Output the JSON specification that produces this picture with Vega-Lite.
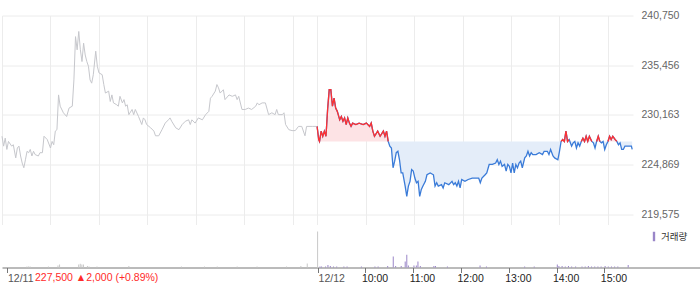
{
  "$schema": "https://vega.github.io/schema/vega-lite/v6.json",
  "background": "white",
  "padding": {"left": 0, "top": 10.5, "right": 0, "bottom": 0},
  "spacing": 0,
  "config": {
    "view": {"stroke": null},
    "font": "Liberation Sans",
    "axis": {"labelFont": "Liberation Sans"}
  },
  "datasets": {
    "d11": [
      {"t":0,"p":227900},{"t":2,"p":226850},{"t":4,"p":227700},{"t":6,"p":226500},{"t":8,"p":227350},{"t":12,"p":226850},{"t":14,"p":227000},{"t":17,"p":225600},{"t":19,"p":226650},{"t":21,"p":226850},{"t":23,"p":225800},{"t":25,"p":225050},{"t":27,"p":224550},{"t":29,"p":225400},{"t":31,"p":226300},{"t":33,"p":226150},{"t":35,"p":226500},{"t":37,"p":225800},{"t":39,"p":226300},{"t":41,"p":225950},{"t":45,"p":225800},{"t":47,"p":226150},{"t":50,"p":226150},{"t":52,"p":227900},{"t":56,"p":227550},{"t":60,"p":226650},{"t":62,"p":227350},{"t":64,"p":227000},{"t":66,"p":228450},{"t":68,"p":228600},{"t":70,"p":232300},{"t":72,"p":231100},{"t":76,"p":230400},{"t":80,"p":230000},{"t":83,"p":230900},{"t":87,"p":231100},{"t":89,"p":233900},{"t":91,"p":238500},{"t":93,"p":237100},{"t":95,"p":239050},{"t":97,"p":237100},{"t":99,"p":235850},{"t":101,"p":237800},{"t":103,"p":236550},{"t":105,"p":235850},{"t":107,"p":235350},{"t":109,"p":233900},{"t":111,"p":233550},{"t":113,"p":234450},{"t":116,"p":236950},{"t":118,"p":235350},{"t":120,"p":234650},{"t":124,"p":234450},{"t":126,"p":233400},{"t":128,"p":232500},{"t":132,"p":232700},{"t":134,"p":231600},{"t":136,"p":232300},{"t":138,"p":231450},{"t":142,"p":231250},{"t":144,"p":231100},{"t":146,"p":232150},{"t":149,"p":231450},{"t":151,"p":231800},{"t":153,"p":231100},{"t":155,"p":231250},{"t":157,"p":230200},{"t":161,"p":230750},{"t":163,"p":230200},{"t":165,"p":230750},{"t":169,"p":230000},{"t":173,"p":229150},{"t":175,"p":229850},{"t":177,"p":229650},{"t":179,"p":229150},{"t":184,"p":228800},{"t":188,"p":228450},{"t":190,"p":227950},{"t":194,"p":227950},{"t":198,"p":228600},{"t":202,"p":229300},{"t":206,"p":229650},{"t":208,"p":229850},{"t":210,"p":229500},{"t":215,"p":228800},{"t":219,"p":228600},{"t":223,"p":229150},{"t":227,"p":229500},{"t":231,"p":229650},{"t":233,"p":229150},{"t":235,"p":229650},{"t":239,"p":229300},{"t":243,"p":229850},{"t":248,"p":229650},{"t":252,"p":230200},{"t":256,"p":230550},{"t":258,"p":231950},{"t":260,"p":232150},{"t":264,"p":232700},{"t":266,"p":233400},{"t":268,"p":233050},{"t":270,"p":232500},{"t":274,"p":232850},{"t":276,"p":231800},{"t":281,"p":232300},{"t":285,"p":232150},{"t":289,"p":232300},{"t":291,"p":231800},{"t":293,"p":232150},{"t":297,"p":230750},{"t":301,"p":230750},{"t":305,"p":230900},{"t":309,"p":230750},{"t":314,"p":231100},{"t":316,"p":231450},{"t":318,"p":231250},{"t":322,"p":231450},{"t":326,"p":231450},{"t":330,"p":230200},{"t":334,"p":230400},{"t":338,"p":230200},{"t":340,"p":230750},{"t":342,"p":230200},{"t":347,"p":230200},{"t":349,"p":230400},{"t":351,"p":229150},{"t":355,"p":228600},{"t":359,"p":228500},{"t":363,"p":228500},{"t":367,"p":228950},{"t":371,"p":228950},{"t":375,"p":227950},{"t":377,"p":228950},{"t":384,"p":228950},{"t":389,"p":228950}
    ],
    "d12": [
      {"t":390,"p":228950},{"t":392,"p":227550},{"t":393,"p":227350},{"t":395,"p":228450},{"t":397,"p":227900},{"t":399,"p":228450},{"t":401,"p":227900},{"t":403,"p":230750},{"t":405,"p":232850},{"t":407,"p":232850},{"t":409,"p":231100},{"t":411,"p":231950},{"t":413,"p":230900},{"t":415,"p":230550},{"t":418,"p":229650},{"t":420,"p":230000},{"t":422,"p":229500},{"t":424,"p":229850},{"t":426,"p":229150},{"t":428,"p":229850},{"t":430,"p":229300},{"t":432,"p":228950},{"t":434,"p":229300},{"t":438,"p":229150},{"t":442,"p":229300},{"t":447,"p":229150},{"t":451,"p":229300},{"t":455,"p":228950},{"t":457,"p":229300},{"t":459,"p":228450},{"t":461,"p":227900},{"t":465,"p":228450},{"t":468,"p":227900},{"t":472,"p":228450},{"t":474,"p":227900},{"t":476,"p":228450},{"t":478,"p":227350},{"t":480,"p":226850},{"t":482,"p":226650},{"t":484,"p":224550},{"t":486,"p":225250},{"t":488,"p":226150},{"t":490,"p":226300},{"t":492,"p":225400},{"t":494,"p":224000},{"t":496,"p":224000},{"t":499,"p":222600},{"t":501,"p":221500},{"t":503,"p":222600},{"t":505,"p":223100},{"t":507,"p":224350},{"t":509,"p":224200},{"t":511,"p":223450},{"t":513,"p":222950},{"t":515,"p":223100},{"t":517,"p":221500},{"t":519,"p":222250},{"t":521,"p":222600},{"t":524,"p":223100},{"t":526,"p":223800},{"t":530,"p":224000},{"t":534,"p":223800},{"t":536,"p":222600},{"t":538,"p":222950},{"t":540,"p":222600},{"t":544,"p":222750},{"t":546,"p":222400},{"t":548,"p":222950},{"t":553,"p":222750},{"t":557,"p":223100},{"t":559,"p":222750},{"t":561,"p":222950},{"t":563,"p":222600},{"t":565,"p":223100},{"t":567,"p":222400},{"t":569,"p":223300},{"t":573,"p":223100},{"t":577,"p":223300},{"t":582,"p":223450},{"t":586,"p":223450},{"t":590,"p":223450},{"t":592,"p":222950},{"t":594,"p":223450},{"t":598,"p":223800},{"t":600,"p":224000},{"t":603,"p":224900},{"t":607,"p":224900},{"t":611,"p":225050},{"t":613,"p":225400},{"t":615,"p":224900},{"t":617,"p":225250},{"t":619,"p":224700},{"t":622,"p":224900},{"t":624,"p":224200},{"t":626,"p":224900},{"t":628,"p":224700},{"t":630,"p":224000},{"t":632,"p":225050},{"t":634,"p":224000},{"t":636,"p":224900},{"t":638,"p":224550},{"t":640,"p":225050},{"t":642,"p":225250},{"t":644,"p":224550},{"t":647,"p":225600},{"t":649,"p":225800},{"t":651,"p":226300},{"t":653,"p":225800},{"t":655,"p":226150},{"t":657,"p":225950},{"t":661,"p":225950},{"t":665,"p":226150},{"t":669,"p":225950},{"t":671,"p":226300},{"t":675,"p":226300},{"t":677,"p":225950},{"t":679,"p":226500},{"t":682,"p":225800},{"t":684,"p":225600},{"t":688,"p":225400},{"t":690,"p":226300},{"t":692,"p":227350},{"t":694,"p":227550},{"t":696,"p":227350},{"t":698,"p":228450},{"t":700,"p":227350},{"t":702,"p":227550},{"t":705,"p":226850},{"t":707,"p":227200},{"t":709,"p":227350},{"t":711,"p":226650},{"t":713,"p":227200},{"t":715,"p":226850},{"t":717,"p":227350},{"t":719,"p":227700},{"t":721,"p":227350},{"t":723,"p":227900},{"t":725,"p":227350},{"t":727,"p":227900},{"t":730,"p":227350},{"t":732,"p":227200},{"t":734,"p":226650},{"t":736,"p":227350},{"t":738,"p":227900},{"t":740,"p":227350},{"t":742,"p":227200},{"t":744,"p":227350},{"t":746,"p":226500},{"t":748,"p":227000},{"t":750,"p":227350},{"t":752,"p":227900},{"t":754,"p":227550},{"t":756,"p":227900},{"t":759,"p":227550},{"t":761,"p":227350},{"t":763,"p":227000},{"t":765,"p":227200},{"t":767,"p":226500},{"t":769,"p":226500},{"t":771,"p":226850},{"t":775,"p":226850},{"t":779,"p":226850},{"t":780,"p":226500}
    ],
    "vol": [
      {"t":25,"v":1000,"s":"prev"},{"t":27,"v":1000,"s":"prev"},{"t":29,"v":1000,"s":"prev"},{"t":52,"v":1000,"s":"prev"},{"t":64,"v":2000,"s":"prev"},{"t":66,"v":3000,"s":"prev"},{"t":90,"v":3000,"s":"prev"},{"t":92,"v":3700,"s":"prev"},{"t":94,"v":3000,"s":"prev"},{"t":96,"v":3000,"s":"prev"},{"t":101,"v":1500,"s":"prev"},{"t":103,"v":1000,"s":"prev"},{"t":113,"v":1000,"s":"prev"},{"t":153,"v":1500,"s":"prev"},{"t":219,"v":1000,"s":"prev"},{"t":248,"v":1000,"s":"prev"},{"t":264,"v":1000,"s":"prev"},{"t":289,"v":1000,"s":"prev"},{"t":314,"v":1000,"s":"prev"},{"t":351,"v":1000,"s":"prev"},{"t":369,"v":1500,"s":"prev"},{"t":377,"v":4000,"s":"prev"},{"t":390,"v":36000,"s":"prev"},
      {"t":393,"v":1000,"s":"거래량"},{"t":395,"v":1000,"s":"거래량"},{"t":400,"v":1000,"s":"거래량"},{"t":403,"v":2500,"s":"거래량"},{"t":406,"v":1500,"s":"거래량"},{"t":410,"v":1000,"s":"거래량"},{"t":414,"v":1000,"s":"거래량"},{"t":423,"v":1000,"s":"거래량"},{"t":427,"v":1000,"s":"거래량"},{"t":445,"v":1000,"s":"거래량"},{"t":462,"v":1000,"s":"거래량"},{"t":466,"v":1000,"s":"거래량"},{"t":478,"v":1500,"s":"거래량"},{"t":485,"v":11000,"s":"거래량"},{"t":488,"v":1500,"s":"거래량"},{"t":495,"v":1500,"s":"거래량"},{"t":500,"v":6000,"s":"거래량"},{"t":502,"v":12700,"s":"거래량"},{"t":504,"v":2000,"s":"거래량"},{"t":511,"v":2000,"s":"거래량"},{"t":514,"v":2000,"s":"거래량"},{"t":516,"v":6000,"s":"거래량"},{"t":519,"v":1500,"s":"거래량"},{"t":536,"v":1500,"s":"거래량"},{"t":538,"v":1500,"s":"거래량"},{"t":553,"v":1000,"s":"거래량"},{"t":594,"v":2000,"s":"거래량"},{"t":602,"v":1000,"s":"거래량"},{"t":650,"v":1000,"s":"거래량"},{"t":662,"v":1000,"s":"거래량"},{"t":691,"v":3000,"s":"거래량"},{"t":693,"v":1500,"s":"거래량"},{"t":697,"v":1500,"s":"거래량"},{"t":701,"v":1000,"s":"거래량"},{"t":705,"v":1500,"s":"거래량"},{"t":709,"v":1000,"s":"거래량"},{"t":714,"v":1000,"s":"거래량"},{"t":722,"v":1000,"s":"거래량"},{"t":726,"v":1000,"s":"거래량"},{"t":730,"v":1500,"s":"거래량"},{"t":734,"v":1000,"s":"거래량"},{"t":738,"v":1000,"s":"거래량"},{"t":742,"v":1000,"s":"거래량"},{"t":746,"v":1000,"s":"거래량"},{"t":751,"v":1500,"s":"거래량"},{"t":755,"v":1000,"s":"거래량"},{"t":759,"v":1000,"s":"거래량"},{"t":763,"v":1000,"s":"거래량"},{"t":767,"v":1000,"s":"거래량"},{"t":780,"v":2500,"s":"거래량"}
    ]
  },
  "vconcat": [
    {
      "width": 631,
      "height": 209,
      "layer": [
        {
          "data": {"name": "d11"},
          "mark": {"type": "line", "color": "#c6c7cc", "strokeWidth": 1},
          "encoding": {
            "x": {"field": "t", "type": "quantitative",
              "scale": {"domain": [0, 781], "nice": false, "zero": false},
              "axis": {"orient": "bottom", "labels": false, "ticks": false, "domain": false, "title": null,
                "grid": true, "gridColor": "#ececec", "gridWidth": 1,
                "values": [0,60,120,180,240,300,360,390,450,510,570,630,690,750]}},
            "y": {"field": "p", "type": "quantitative",
              "scale": {"domain": [218511, 240750], "nice": false, "zero": false},
              "axis": {"orient": "right", "title": null, "ticks": false, "domain": false,
                "grid": true, "gridColor": "#ececec", "gridWidth": 1,
                "values": [219575, 224869, 230163, 235456, 240750],
                "labelExpr": "format(datum.value, ',')",
                "labelColor": "#666666", "labelFontSize": 10.5, "labelPadding": 8}}
          }
        },
        {
          "data": {"name": "d12"},
          "transform": [{"calculate": "max(datum.p, 227350)", "as": "hi"}],
          "mark": {"type": "area", "color": "#fde3e5", "opacity": 1},
          "encoding": {
            "x": {"field": "t", "type": "quantitative"},
            "y": {"field": "hi", "type": "quantitative"},
            "y2": {"datum": 227350}
          }
        },
        {
          "data": {"name": "d12"},
          "transform": [{"calculate": "min(datum.p, 227350)", "as": "lo"}],
          "mark": {"type": "area", "color": "#e4edf9", "opacity": 1},
          "encoding": {
            "x": {"field": "t", "type": "quantitative"},
            "y": {"field": "lo", "type": "quantitative"},
            "y2": {"datum": 227350}
          }
        },
        {
          "mark": {"type": "rule", "color": "#555555", "strokeDash": [1, 2], "strokeWidth": 1},
          "encoding": {
            "x": {"datum": 390},
            "x2": {"datum": 780},
            "y": {"datum": 227350}
          }
        },
        {
          "data": {"name": "d12"},
          "mark": {"type": "line", "color": "#3a7bd8", "strokeWidth": 1.3},
          "encoding": {
            "x": {"field": "t", "type": "quantitative"},
            "y": {"field": "p", "type": "quantitative"}
          }
        },
        {
          "data": {"name": "d12"},
          "transform": [{"calculate": "datum.p >= 227350 ? datum.p : null", "as": "up"}],
          "mark": {"type": "line", "color": "#ff3030", "strokeWidth": 1.3, "invalid": "break-paths-show-domains"},
          "encoding": {
            "x": {"field": "t", "type": "quantitative"},
            "y": {"field": "up", "type": "quantitative"}
          }
        }
      ]
    },
    {
      "width": 700,
      "height": 43,
      "title": {"text": "227,500 ▲2,000 (+0.89%)", "orient": "bottom", "anchor": "start", "dx": 33, "offset": -11,
        "fontSize": 10.5, "fontWeight": "normal", "color": "#ff2a2a", "font": "Liberation Sans"},
      "layer": [
        {
          "data": {"name": "vol"},
          "mark": {"type": "bar", "orient": "vertical", "size": 1},
          "encoding": {
            "x": {"field": "t", "type": "quantitative",
              "scale": {"domain": [0, 866.4], "nice": false, "zero": false},
              "axis": {"orient": "bottom", "title": null, "grid": false,
                "values": [0, 390, 450, 510, 570, 630, 690, 750],
                "labelExpr": "datum.value == 0 ? '12/11' : datum.value == 390 ? '12/12' : (9 + (datum.value - 390) / 60) + ':00'",
                "domainColor": "#777777", "tickColor": "#777777", "tickSize": 5,
                "labelAlign": "left", "labelFontSize": 10.5, "labelPadding": 1, "labelFlush": false,
                "labelOffset": {"condition": {"test": "datum.value <= 390", "value": 0.5}, "value": -4},
                "labelColor": {"condition": {"test": "datum.value <= 390", "value": "#555555"}, "value": "#222222"}}},
            "y": {"field": "v", "type": "quantitative",
              "scale": {"domain": [0, 43000], "nice": false}, "axis": null},
            "color": {"field": "s", "type": "nominal",
              "scale": {"domain": ["prev", "거래량"], "range": ["#c8c8c8", "#9a86c8"]},
              "legend": {"values": ["거래량"], "title": null, "orient": "none", "legendX": 647, "legendY": 216,
                "symbolType": "M-0.25,-1H0.25V1H-0.25Z", "symbolSize": 90, "symbolStrokeWidth": 0,
                "labelFont": "Noto Sans CJK KR", "labelFontSize": 9.5, "labelColor": "#333333", "labelOffset": 2}}
          }
        },
        {
          "mark": {"type": "rule", "color": "#777777", "strokeWidth": 1},
          "encoding": {"y": {"datum": 43000}}
        }
      ]
    }
  ]
}
